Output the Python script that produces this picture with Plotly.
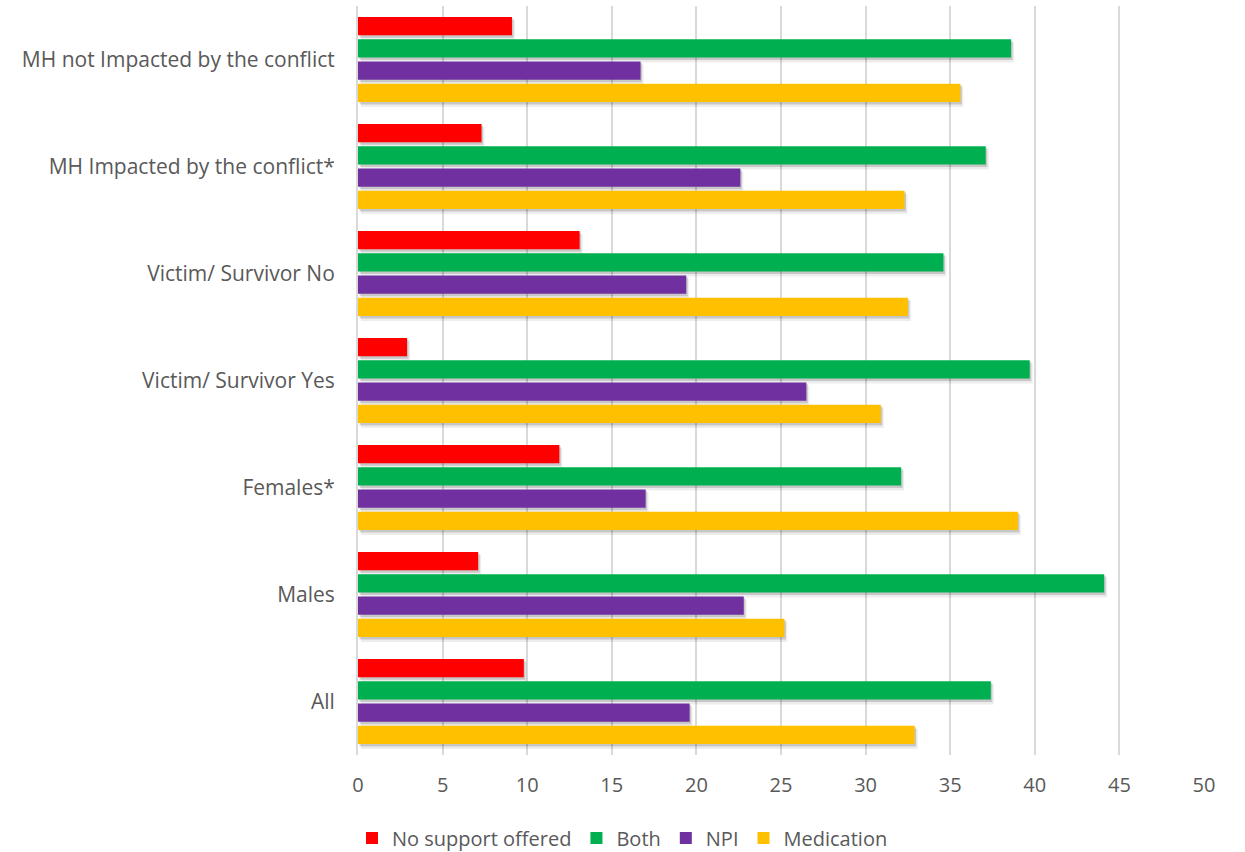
import plotly.graph_objects as go

# Groups, listed bottom to top on the category axis
groups = [
    "All",
    "Males",
    "Females*",
    "Victim/ Survivor Yes",
    "Victim/ Survivor No",
    "MH Impacted by the conflict*",
    "MH not Impacted by the conflict",
]

# Percentages per support type, same order as groups
no_support = [9.8, 7.1, 11.9, 2.9, 13.1, 7.3, 9.1]
both = [37.4, 44.1, 32.1, 39.7, 34.6, 37.1, 38.6]
npi = [19.6, 22.8, 17.0, 26.5, 19.4, 22.6, 16.7]
medication = [32.9, 25.2, 39.0, 30.9, 32.5, 32.3, 35.6]

x_ticks = [0, 5, 10, 15, 20, 25, 30, 35, 40, 45, 50]

# Series from the bottom slot of each group to the top slot; legendrank gives legend order
series = [
    ("Medication", medication, "#FFC000", 4),
    ("NPI", npi, "#7030A0", 3),
    ("Both", both, "#00B050", 2),
    ("No support offered", no_support, "#FF0000", 1),
]

font_family = "Open Sans, Liberation Sans, sans-serif"
text_color = "#595959"

# Bar geometry in category units (one category = one unit)
BAR_W = 0.171
PITCH = 0.2084
PX_Y = 1 / 107.0   # one pixel along the category axis
PX_X = 50 / 846.0  # one pixel along the value axis

# Soft drop shadow drawn as two translucent layers offset down and to the right
shadow_layers = [
    (4.0, 3.0, 2.0, "rgba(0,0,0,0.07)"),
    (2.0, 1.5, 1.0, "rgba(0,0,0,0.16)"),
]

fig = go.Figure()

for dy, dx, grow, scolor in shadow_layers:
    for k, (name, vals, color, rank) in enumerate(series):
        center = (k - 1.5) * PITCH
        fig.add_trace(
            go.Bar(
                y=groups,
                x=vals,
                base=dx * PX_X,
                orientation="h",
                width=BAR_W + grow * PX_Y,
                offset=center - BAR_W / 2 - dy * PX_Y - grow * PX_Y / 2,
                marker=dict(color=scolor, line=dict(width=0)),
                showlegend=False,
                hoverinfo="skip",
            )
        )

for k, (name, vals, color, rank) in enumerate(series):
    center = (k - 1.5) * PITCH
    fig.add_trace(
        go.Bar(
            y=groups,
            x=vals,
            name=name,
            orientation="h",
            width=BAR_W,
            offset=center - BAR_W / 2,
            marker=dict(color=color, line=dict(width=0)),
            legendrank=rank,
        )
    )

fig.update_layout(
    width=1245,
    height=852,
    barmode="overlay",
    plot_bgcolor="white",
    paper_bgcolor="white",
    margin=dict(l=358, r=41, t=6, b=97),
    font=dict(family=font_family, color=text_color, size=20),
    showlegend=True,
    legend=dict(
        orientation="h",
        xref="container",
        yref="container",
        x=0.5,
        xanchor="center",
        y=(852 - 838) / 852,
        yanchor="middle",
        font=dict(size=20, color=text_color),
        itemwidth=30,
        tracegroupgap=0,
    ),
)

fig.update_xaxes(
    range=[0, 50],
    tickvals=x_ticks,
    showgrid=True,
    gridcolor="#D9D9D9",
    gridwidth=2,
    zeroline=False,
    showline=False,
    ticks="",
    ticklabelstandoff=16,
    tickfont=dict(size=20, color=text_color),
    fixedrange=True,
)

fig.update_yaxes(
    type="category",
    categoryorder="array",
    categoryarray=groups,
    range=[-0.5, len(groups) - 0.5],
    showgrid=False,
    showline=True,
    linecolor="#D9D9D9",
    linewidth=2,
    ticks="",
    ticklabelstandoff=17,
    tickfont=dict(size=21, color=text_color),
    fixedrange=True,
)

fig.write_html("out.html")
